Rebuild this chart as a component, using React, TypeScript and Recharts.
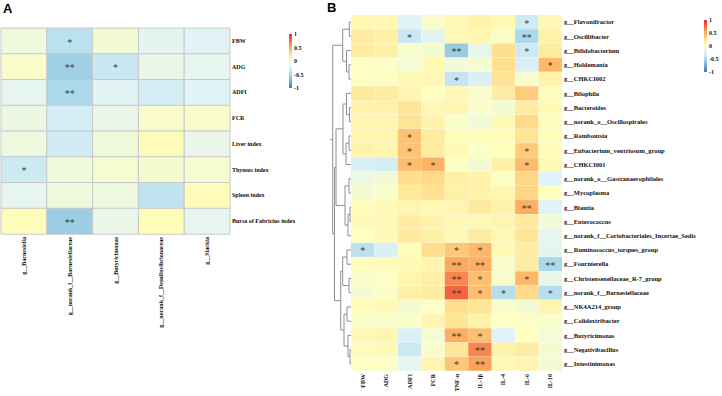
import React from 'react';
import { BarChart, Bar, XAxis, YAxis, Cell, LabelList, ScatterChart, Scatter } from 'recharts';

// ---------- Panel A: genera vs. growth / organ indices ----------
const rowsA = ['FBW', 'ADG', 'ADFI', 'FCR', 'Liver index', 'Thymus index', 'Spleen index', 'Bursa of Fabricius index'];
const colsA = ['g__Barnesiella', 'g__norank_f__Barnesiellaceae', 'g__Butyricimonas', 'g__norank_f__Desulfovibrionaceae', 'g__Slackia'];
const valuesA = [
  [-0.13, -0.42, -0.09, -0.22, -0.24],
  [-0.05, -0.55, -0.36, -0.18, -0.2],
  [-0.2, -0.5, -0.23, -0.3, -0.25],
  [-0.16, -0.3, -0.18, -0.06, -0.06],
  [-0.14, -0.32, -0.12, 0.03, -0.18],
  [-0.34, -0.12, -0.07, -0.08, -0.07],
  [-0.2, -0.13, -0.14, -0.4, 0.03],
  [0.03, -0.57, -0.17, 0.03, -0.2],
];
const marksA = [
  ['', '*', '', '', ''],
  ['', '**', '*', '', ''],
  ['', '**', '', '', ''],
  ['', '', '', '', ''],
  ['', '', '', '', ''],
  ['*', '', '', '', ''],
  ['', '', '', '', ''],
  ['', '**', '', '', ''],
];

// ---------- Panel B: genera vs. growth and cytokines ----------
const rowsB = [
  'g__Flavonifractor', 'g__Oscillibacter', 'g__Bifidobacterium', 'g__Holdemania', 'g__CHKCI002',
  'g__Bilophila', 'g__Bacteroides', 'g__norank_o__Oscillospirales', 'g__Romboutsia',
  'g__Eubacterium_ventriosum_group', 'g__CHKCI001', 'g__norank_o__Gastranaerophilales', 'g__Mycoplasma',
  'g__Blautia', 'g__Enterococcus', 'g__norank_f__Coriobacteriales_Incertae_Sedis',
  'g__Ruminococcus_torques_group', 'g__Fournierella', 'g__Christensenellaceae_R-7_group',
  'g__norank_f__Barnesiellaceae', 'g__NK4A214_group', 'g__Colidextribacter', 'g__Butyricimonas',
  'g__Negativibacillus', 'g__Intestinimonas',
];
const colsB = ['FBW', 'ADG', 'ADFI', 'FCR', 'TNF-α', 'IL-1β', 'IL-4', 'IL-6', 'IL-10'];
const valuesB = [
  [0.06, 0.06, -0.24, -0.05, 0.06, 0.1, 0.05, -0.33, 0.06],
  [0.15, 0.12, -0.36, -0.22, 0.06, 0.07, -0.04, -0.5, 0.1],
  [0.15, 0.12, -0.06, -0.08, -0.58, -0.2, 0.25, -0.34, 0.15],
  [-0.02, -0.03, -0.1, 0.05, -0.12, -0.08, 0.25, -0.28, 0.45],
  [-0.02, -0.02, 0.05, 0.06, -0.38, -0.28, 0.22, -0.06, 0.1],
  [0.18, 0.15, 0.08, 0.01, 0.06, -0.05, 0.15, 0.35, 0.03],
  [0.1, 0.1, 0.2, 0.06, 0.08, -0.05, -0.08, 0.15, 0.05],
  [0.08, 0.08, 0.22, 0.1, -0.05, -0.1, 0.05, 0.28, 0.02],
  [0.08, 0.08, 0.4, 0.15, 0.03, 0.02, 0.03, 0.22, 0.02],
  [0.1, 0.08, 0.4, 0.15, 0.05, -0.03, 0.0, 0.36, 0.03],
  [-0.28, -0.3, 0.42, 0.47, -0.02, -0.08, 0.12, 0.43, 0.05],
  [-0.15, -0.1, 0.25, 0.28, 0.12, 0.1, -0.03, 0.3, -0.25],
  [-0.08, -0.05, 0.18, 0.25, 0.12, 0.1, 0.08, 0.3, 0.0],
  [0.03, 0.05, 0.08, 0.06, 0.08, 0.18, 0.1, 0.5, -0.25],
  [0.05, 0.05, 0.15, 0.1, 0.06, 0.06, 0.08, 0.18, -0.1],
  [0.0, 0.05, 0.18, 0.12, 0.05, 0.15, 0.06, 0.2, -0.2],
  [-0.42, -0.28, 0.02, 0.25, 0.37, 0.45, 0.05, 0.15, -0.22],
  [0.02, 0.03, 0.05, 0.08, 0.52, 0.5, -0.06, 0.15, -0.5],
  [-0.05, -0.03, 0.08, 0.12, 0.65, 0.42, -0.06, 0.45, -0.18],
  [-0.08, -0.04, 0.12, 0.15, 0.78, 0.42, -0.45, 0.28, -0.45],
  [0.03, 0.05, -0.08, -0.03, 0.25, 0.2, -0.05, -0.1, 0.08],
  [-0.05, -0.05, -0.05, 0.08, 0.2, 0.1, -0.02, -0.02, -0.05],
  [0.05, 0.08, -0.28, -0.08, 0.5, 0.42, -0.25, 0.0, -0.1],
  [0.03, 0.05, -0.35, -0.05, 0.2, 0.65, 0.1, 0.15, -0.08],
  [-0.02, -0.03, -0.2, 0.08, 0.38, 0.55, 0.05, 0.08, -0.08],
];
const marksB = [
  ['', '', '', '', '', '', '', '*', ''],
  ['', '', '*', '', '', '', '', '**', ''],
  ['', '', '', '', '**', '', '', '*', ''],
  ['', '', '', '', '', '', '', '', '*'],
  ['', '', '', '', '*', '', '', '', ''],
  ['', '', '', '', '', '', '', '', ''],
  ['', '', '', '', '', '', '', '', ''],
  ['', '', '', '', '', '', '', '', ''],
  ['', '', '*', '', '', '', '', '', ''],
  ['', '', '*', '', '', '', '', '*', ''],
  ['', '', '*', '*', '', '', '', '*', ''],
  ['', '', '', '', '', '', '', '', ''],
  ['', '', '', '', '', '', '', '', ''],
  ['', '', '', '', '', '', '', '**', ''],
  ['', '', '', '', '', '', '', '', ''],
  ['', '', '', '', '', '', '', '', ''],
  ['*', '', '', '', '*', '*', '', '', ''],
  ['', '', '', '', '**', '**', '', '', '**'],
  ['', '', '', '', '**', '*', '', '*', ''],
  ['', '', '', '', '**', '*', '*', '', '*'],
  ['', '', '', '', '', '', '', '', ''],
  ['', '', '', '', '', '', '', '', ''],
  ['', '', '', '', '**', '*', '', '', ''],
  ['', '', '', '', '', '**', '', '', ''],
  ['', '', '', '', '*', '**', '', '', ''],
];

// Row clustering of panel B: [left child, right child, merge height].
// 'rK' is row K, 'nK' is the K-th merge in this list.
const treeB: [string, string, number][] = [
  ['r0', 'r1', 1.7],
  ['r3', 'r4', 2],
  ['r2', 'n1', 4.5],
  ['n0', 'n2', 8.3],
  ['r6', 'r7', 1.5],
  ['r5', 'n4', 4.5],
  ['r8', 'r9', 2],
  ['n6', 'r10', 5],
  ['n5', 'n7', 8],
  ['r11', 'r12', 2],
  ['r13', 'r14', 1],
  ['n10', 'r15', 3],
  ['n9', 'n11', 6],
  ['n8', 'n12', 15],
  ['r16', 'r17', 4],
  ['r18', 'r19', 2],
  ['n14', 'n15', 8.3],
  ['r20', 'r21', 4],
  ['r23', 'r24', 1],
  ['r22', 'n18', 3],
  ['n17', 'n19', 7],
  ['n16', 'n20', 10.3],
  ['n13', 'n21', 16.5],
  ['n3', 'n22', 18.3],
];
const treeRootStub = 21;

// Diverging colour scale
const scaleStops: [number, string][] = [
  [-1, '#4575b4'], [-0.75, '#74add1'], [-0.5, '#abd9e9'], [-0.25, '#e0f3f8'],
  [0, '#ffffbf'], [0.25, '#fee090'], [0.5, '#fdae61'], [0.75, '#f46d43'], [1, '#d73027'],
];
const legendTicks = [1, 0.5, 0, -0.5, -1];

const hex = (c: string) => [1, 3, 5].map((k) => parseInt(c.slice(k, k + 2), 16));
function colorFor(v: number): string {
  const t = Math.max(-1, Math.min(1, v));
  for (let k = 0; k < scaleStops.length - 1; k++) {
    const [a, ca] = scaleStops[k];
    const [b, cb] = scaleStops[k + 1];
    if (t >= a && t <= b) {
      const f = (t - a) / (b - a);
      const A = hex(ca);
      const B = hex(cb);
      const m = A.map((x, i) => Math.round(x + (B[i] - x) * f));
      return `rgb(${m[0]},${m[1]},${m[2]})`;
    }
  }
  return scaleStops[scaleStops.length - 1][1];
}

const SERIF = '"Liberation Serif", "Times New Roman", serif';
const SANS = '"Liberation Sans", Arial, sans-serif';

function renderMark(props: any) {
  const { x, y, width, height, value } = props;
  if (!value) return null;
  return (
    <text
      x={Number(x) + Number(width) / 2}
      y={Number(y) + Number(height) / 2 + 4.6}
      textAnchor="middle"
      fontFamily={SERIF}
      fontSize={10}
      fill="#3a3a3a"
    >
      {value}
    </text>
  );
}

type HeatProps = {
  rows: string[];
  cols: string[];
  values: number[][];
  marks: string[][];
  width: number;
  height: number;
  margin: { top: number; right: number; bottom: number; left: number };
  yWidth: number;
  xHeight: number;
  rowFont: number;
  cellStroke?: string;
};

function Heatmap({ rows, cols, values, marks, width, height, margin, yWidth, xHeight, rowFont, cellStroke }: HeatProps) {
  const data = rows.map((name, i) => {
    const rec: Record<string, any> = { name };
    cols.forEach((_, j) => {
      rec['c' + j] = 1;
      rec['m' + j] = marks[i][j];
    });
    return rec;
  });

  const colTick = (p: any) => {
    const label = cols[Math.floor(p.payload.value)];
    return (
      <text
        transform={`translate(${p.x},${p.y}) rotate(-90)`}
        textAnchor="end"
        dy="0.35em"
        fontFamily={SERIF}
        fontWeight="bold"
        fontSize={6}
        fill="#111"
      >
        {label}
      </text>
    );
  };
  const rowTick = (p: any) => (
    <text x={p.x} y={p.y} dy="0.35em" textAnchor="start" fontFamily={SERIF} fontWeight="bold" fontSize={rowFont} fill="#111">
      {p.payload.value}
    </text>
  );

  return (
    <BarChart layout="vertical" width={width} height={height} data={data} margin={margin} barCategoryGap={0} barGap={0}>
      <XAxis
        type="number"
        domain={[0, cols.length]}
        ticks={cols.map((_, j) => j + 0.5)}
        interval={0}
        height={xHeight}
        tickSize={0}
        tickMargin={3}
        axisLine={false}
        tickLine={false}
        tick={colTick}
      />
      <YAxis
        type="category"
        dataKey="name"
        orientation="right"
        width={yWidth}
        tickSize={0}
        tickMargin={2}
        axisLine={false}
        tickLine={false}
        interval={0}
        tick={rowTick}
      />
      {cols.map((_, j) => (
        <Bar
          key={j}
          dataKey={'c' + j}
          stackId="cells"
          isAnimationActive={false}
          stroke={cellStroke || 'none'}
          strokeWidth={cellStroke ? 1 : 0}
        >
          {rows.map((_, i) => (
            <Cell key={i} fill={colorFor(values[i][j])} />
          ))}
          <LabelList dataKey={'m' + j} content={renderMark} />
        </Bar>
      ))}
    </BarChart>
  );
}

function buildTreeSegments() {
  const pos: Record<string, { h: number; y: number }> = {};
  rowsB.forEach((_, i) => {
    pos['r' + i] = { h: 0, y: i + 0.5 };
  });
  const paths: { h: number; y: number }[][] = [];
  treeB.forEach(([a, b, h], k) => {
    const pa = pos[a];
    const pb = pos[b];
    paths.push([
      { h: pa.h, y: pa.y },
      { h, y: pa.y },
      { h, y: pb.y },
      { h: pb.h, y: pb.y },
    ]);
    pos['n' + k] = { h, y: (pa.y + pb.y) / 2 };
  });
  const root = pos['n' + (treeB.length - 1)];
  paths.push([
    { h: root.h, y: root.y },
    { h: treeRootStub, y: root.y },
  ]);
  return paths;
}

const noShape = () => <g />;

function Dendrogram() {
  const paths = buildTreeSegments();
  return (
    <ScatterChart width={31} height={396} margin={{ top: 15, right: 0, bottom: 25, left: 0 }}>
      <XAxis type="number" dataKey="h" domain={[0, 31]} reversed hide allowDataOverflow />
      <YAxis type="number" dataKey="y" domain={[0, rowsB.length]} reversed hide allowDataOverflow />
      {paths.map((pts, k) => (
        <Scatter
          key={k}
          data={pts}
          line={{ stroke: '#8e8e8e', strokeWidth: 1 }}
          shape={noShape}
          isAnimationActive={false}
        />
      ))}
    </ScatterChart>
  );
}

function ColorBar({ id, left, top, barHeight }: { id: string; left: number; top: number; barHeight: number }) {
  const step = barHeight / (legendTicks.length - 1);
  return (
    <svg width={40} height={barHeight + 10} style={{ position: 'absolute', left, top: top - 4 }}>
      <defs>
        <linearGradient id={id} x1="0" y1="0" x2="0" y2="1">
          {scaleStops
            .slice()
            .reverse()
            .map(([v, c], k) => (
              <stop key={k} offset={`${((1 - v) / 2) * 100}%`} stopColor={c} />
            ))}
        </linearGradient>
      </defs>
      <rect x={0} y={4} width={3} height={barHeight} fill={`url(#${id})`} />
      {legendTicks.map((t, k) => (
        <text
          key={k}
          x={5}
          y={4 + k * step}
          dy="0.35em"
          fontFamily={SERIF}
          fontWeight="bold"
          fontSize={6}
          fill="#111"
        >
          {t}
        </text>
      ))}
    </svg>
  );
}

export default function App() {
  return (
    <div style={{ position: 'absolute', left: 0, top: 0, width: 722, height: 396, background: '#fff', overflow: 'hidden' }}>
      <div style={{ position: 'absolute', left: 3, top: 1, fontFamily: SANS, fontWeight: 'bold', fontSize: 13, lineHeight: '16px' }}>A</div>
      <div style={{ position: 'absolute', left: 327, top: 0, fontFamily: SANS, fontWeight: 'bold', fontSize: 13, lineHeight: '16px' }}>B</div>

      <div style={{ position: 'absolute', left: 0, top: 0 }}>
        <Heatmap
          rows={rowsA}
          cols={colsA}
          values={valuesA}
          marks={marksA}
          width={300}
          height={396}
          margin={{ top: 28, right: 2, bottom: 12, left: 1 }}
          yWidth={68}
          xHeight={150}
          rowFont={6}
          cellStroke="#c6caca"
        />
      </div>
      <ColorBar id="barA" left={289} top={34} barHeight={54} />

      <div style={{ position: 'absolute', left: 320, top: 0 }}>
        <Dendrogram />
      </div>
      <div style={{ position: 'absolute', left: 345, top: 0 }}>
        <Heatmap
          rows={rowsB}
          cols={colsB}
          values={valuesB}
          marks={marksB}
          width={377}
          height={396}
          margin={{ top: 15, right: 2, bottom: 0, left: 6 }}
          yWidth={158}
          xHeight={25}
          rowFont={6.5}
        />
      </div>
      <ColorBar id="barB" left={704} top={20} barHeight={52} />
    </div>
  );
}
